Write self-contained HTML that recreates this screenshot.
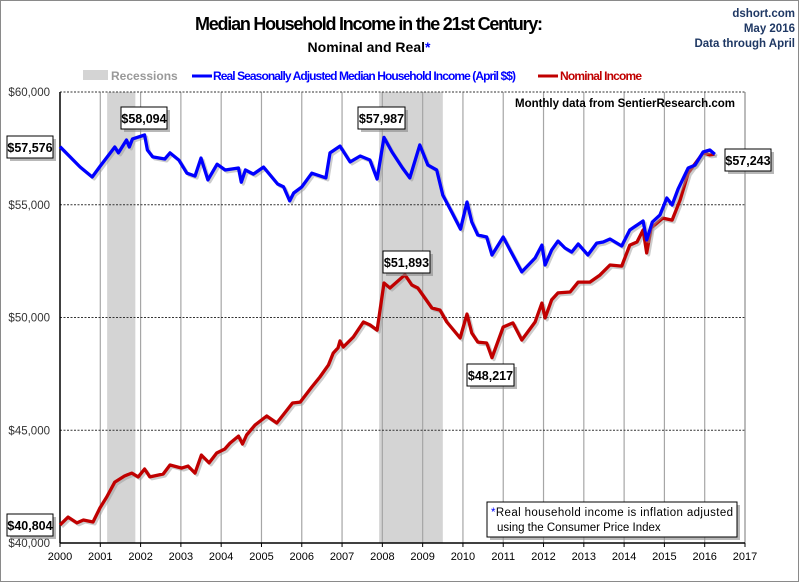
<!DOCTYPE html>
<html><head><meta charset="utf-8"><style>
body{margin:0;background:#fff}
svg{display:block;font-family:"Liberation Sans",sans-serif}
</style></head><body>
<svg id="chart" width="800" height="583" viewBox="0 0 800 583">
<rect x="0.5" y="0.5" width="798" height="581" fill="#fff" stroke="#8a8a8a"/>
<text x="369" y="30" font-size="18" font-weight="bold" text-anchor="middle" textLength="348">Median Household Income in the 21st Century:</text>
<text x="369" y="52" font-size="14" font-weight="bold" text-anchor="middle">Nominal and Real<tspan fill="#0000ff">*</tspan></text>
<g font-size="11.5" font-weight="bold" fill="#1f3864" text-anchor="end">
<text x="795" y="17">dshort.com</text><text x="795" y="32">May 2016</text><text x="795" y="47">Data through April</text></g>
<g>
<rect x="83" y="70" width="25" height="10" fill="#d4d4d4"/>
<text x="111" y="80" font-size="12" font-weight="bold" fill="#999">Recessions</text>
<line x1="192" y1="76" x2="212" y2="76" stroke="#0000ff" stroke-width="3"/>
<text x="213" y="80" font-size="12" font-weight="bold" fill="#0000ff" textLength="303">Real Seasonally Adjusted Median Household Income (April $$)</text>
<line x1="538" y1="76" x2="558" y2="76" stroke="#c00000" stroke-width="3"/>
<text x="560" y="80" font-size="12" font-weight="bold" fill="#c00000" textLength="82">Nominal Income</text>
</g>
<g id="plot"></g>
<text x="515" y="107" font-size="11.5" font-weight="bold" textLength="220">Monthly data from SentierResearch.com</text>
<g>
<rect x="490" y="505" width="250" height="35" fill="#888" opacity="0.6"/>
<rect x="487" y="502" width="250" height="35" fill="#fff" stroke="#000"/>
<text x="491" y="516" font-size="11.5" textLength="242"><tspan fill="#0000ff">*</tspan>Real household  income is inflation adjusted</text>
<text x="497" y="531" font-size="11.5">using  the Consumer Price Index</text>
</g>
</svg>
<script>
const yearTicks=[2000,2001,2002,2003,2004,2005,2006,2007,2008,2009,2010,2011,2012,2013,2014,2015,2016,2017];
const valueTicks=[40000,45000,50000,55000,60000];
const valueTickLabels=["$40,000","$45,000","$50,000","$55,000","$60,000"];
const recessionStarts=[2001.17,2007.92];
const recessionEnds=[2001.87,2009.5];
const realYears=[2000.0,2000.5,2000.8,2001.0,2001.36,2001.45,2001.65,2001.72,2001.8,2002.1,2002.17,2002.3,2002.6,2002.73,2002.95,2003.15,2003.35,2003.5,2003.67,2003.9,2004.1,2004.43,2004.5,2004.6,2004.8,2005.05,2005.4,2005.55,2005.7,2005.8,2006.0,2006.25,2006.6,2006.7,2006.95,2007.2,2007.45,2007.69,2007.87,2008.04,2008.24,2008.5,2008.68,2008.93,2009.13,2009.35,2009.5,2009.72,2009.94,2010.1,2010.22,2010.37,2010.59,2010.72,2011.0,2011.17,2011.46,2011.79,2011.96,2012.04,2012.2,2012.36,2012.53,2012.7,2012.86,2013.1,2013.32,2013.48,2013.65,2013.94,2014.14,2014.47,2014.56,2014.7,2014.89,2015.06,2015.19,2015.34,2015.59,2015.76,2015.96,2016.13,2016.25];
const realValues=[57576,56674,56230,56720,57560,57300,57870,57560,57920,58094,57430,57120,57030,57300,56980,56400,56270,57070,56100,56800,56540,56630,56000,56540,56360,56670,55920,55790,55170,55520,55790,56400,56190,57300,57600,56900,57160,56985,56140,57987,57340,56630,56190,57650,56760,56540,55430,54680,53920,55120,54230,53660,53570,52770,53570,52990,52020,52640,53210,52330,52990,53390,53080,52900,53260,52770,53300,53350,53480,53170,53880,54280,53440,54230,54550,55300,54990,55700,56630,56760,57340,57430,57243];
const nominalYears=[2000.0,2000.2,2000.42,2000.58,2000.82,2000.99,2001.16,2001.36,2001.6,2001.78,2001.94,2002.1,2002.23,2002.56,2002.73,2003.02,2003.18,2003.35,2003.51,2003.7,2003.89,2004.09,2004.22,2004.43,2004.53,2004.63,2004.84,2005.13,2005.38,2005.54,2005.77,2005.96,2006.25,2006.45,2006.66,2006.78,2006.9,2006.95,2007.03,2007.28,2007.53,2007.69,2007.87,2008.04,2008.19,2008.56,2008.73,2008.88,2009.23,2009.43,2009.6,2009.93,2010.1,2010.22,2010.37,2010.59,2010.72,2011.0,2011.24,2011.46,2011.79,2011.96,2012.04,2012.2,2012.36,2012.66,2012.86,2013.15,2013.4,2013.65,2013.94,2014.14,2014.32,2014.47,2014.56,2014.67,2014.96,2015.19,2015.39,2015.59,2015.96,2016.13,2016.25];
const nominalValues=[40804,41150,40890,41020,40930,41550,42040,42700,42970,43100,42930,43280,42930,43060,43460,43320,43410,43100,43900,43550,43990,44170,44430,44740,44390,44790,45230,45630,45320,45680,46210,46250,46920,47360,47890,48420,48650,48960,48690,49130,49800,49670,49440,51530,51310,51893,51440,51310,50420,50330,49800,49090,50150,49310,48910,48870,48217,49580,49760,49000,49800,50640,49980,50780,51090,51130,51570,51570,51880,52330,52280,53210,53350,53880,52860,53970,54410,54320,55210,56410,57300,57210,57243];
const NS="http://www.w3.org/2000/svg";
const X0=60,X1=745,Y0=543,Y1=92;
function xs(y){return X0+(y-2000)/(2017-2000)*(X1-X0);}
function ys(v){return Y0-(v-40000)/(60000-40000)*(Y0-Y1);}
const plot=document.getElementById('plot');
function mk(tag,attrs,parent){const e=document.createElementNS(NS,tag);for(const k in attrs)e.setAttribute(k,attrs[k]);(parent||plot).appendChild(e);return e;}
for(let i=0;i<recessionStarts.length;i++){
  const r=mk('rect',{x:xs(recessionStarts[i]),y:Y1,width:xs(recessionEnds[i])-xs(recessionStarts[i]),height:Y0-Y1,fill:'#d4d4d4'});
  
  
}
yearTicks.forEach((yr,i)=>{
  const x=xs(yr);
  if(i>0){const g=mk('line',{x1:x,y1:Y1,x2:x,y2:Y0,stroke:i===yearTicks.length-1?'#bbb':'#a6a6a6','stroke-width':i===yearTicks.length-1?2:1.2});
  
  }
  const t=mk('line',{x1:x,y1:Y0,x2:x,y2:Y0+4,stroke:'#000'});
  
  
  const l=mk('text',{x:x,y:Y0+17,'font-size':11,'text-anchor':'middle'});
  l.textContent=yr;
  
  
});
valueTicks.forEach((v,i)=>{
  const y=ys(v);
  if(i>0){const g=mk('line',{x1:X0,y1:y,x2:X1,y2:y,stroke:'#333','stroke-dasharray':'2,1.5','stroke-width':1});
  
  }
  const l=mk('text',{x:X0-10,y:y+4,'font-size':11.5,'text-anchor':'end',fill:'#333'});
  l.textContent=valueTickLabels[i];
  
  
});
const ax=mk('line',{x1:X0,y1:Y1,x2:X0,y2:Y0,stroke:'#000','stroke-width':1.5});


const ax2=mk('line',{x1:X0,y1:Y0,x2:X1,y2:Y0,stroke:'#000','stroke-width':1.5});


function series(xsArr,vs,color,name){
  const d=xsArr.map((yr,i)=>(i?'L':'M')+xs(yr).toFixed(1)+','+ys(vs[i]).toFixed(1)).join(' ');
  const sh=mk('path',{d:d,fill:'none',stroke:'#999','stroke-width':3,transform:'translate(2,2)',opacity:0.5,'stroke-linejoin':'round'});
  
  
  const p=mk('path',{d:d,fill:'none',stroke:color,'stroke-width':3.3,'stroke-linejoin':'round'});
  
  
}
series(nominalYears,nominalValues,'#c00000','nominal-line');
series(realYears,realValues,'#0000ff','real-line');
function callout(x,y,w,txt,name){
  const g=mk('g',{});
  
  
  mk('rect',{x:x+3,y:y+3,width:w,height:22,fill:'#888',opacity:0.6},g);
  mk('rect',{x:x,y:y,width:w,height:22,fill:'#fff',stroke:'#000'},g);
  const t=mk('text',{x:x+w/2,y:y+16,'font-size':12.5,'font-weight':'bold','text-anchor':'middle'},g);
  t.textContent=txt;
}
callout(7,136,46,'$57,576','label-real-start');
callout(121,107,46,'$58,094','label-real-peak-2001');
callout(358,107,47,'$57,987','label-real-peak-2008');
callout(383,251,47,'$51,893','label-nominal-peak-2008');
callout(467,364,47,'$48,217','label-nominal-trough');
callout(725,149,46,'$57,243','label-latest');
callout(7,514,46,'$40,804','label-nominal-start');
</script>
</body></html>
